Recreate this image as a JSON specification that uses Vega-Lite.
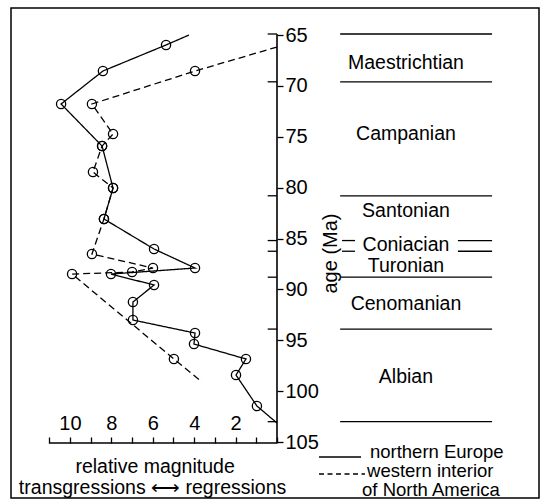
{
  "$schema": "https://vega.github.io/schema/vega-lite/v6.json",
  "width": 528,
  "height": 490,
  "autosize": "none",
  "padding": {"left": 11, "top": 8, "right": 2, "bottom": 3},
  "background": "white",
  "config": {
    "view": {"stroke": "black", "strokeWidth": 1.5},
    "font": "Liberation Sans",
    "text": {"font": "Liberation Sans", "color": "black"},
    "axis": {"labelFont": "Liberation Sans", "titleFont": "Liberation Sans", "labelColor": "black", "titleColor": "black", "tickColor": "black", "domainColor": "black", "grid": false, "tickWidth": 1.3}
  },
  "resolve": {"axis": {"x": "independent", "y": "independent"}},
  "datasets": {
    "series": [
      {"series": "northern Europe", "i": 1, "mag": 4.25, "age": 65.0, "obs": false},
      {"series": "northern Europe", "i": 2, "mag": 5.36, "age": 65.98, "obs": true},
      {"series": "northern Europe", "i": 3, "mag": 8.41, "age": 68.54, "obs": true},
      {"series": "northern Europe", "i": 4, "mag": 10.43, "age": 71.78, "obs": true},
      {"series": "northern Europe", "i": 5, "mag": 8.45, "age": 75.91, "obs": true},
      {"series": "northern Europe", "i": 6, "mag": 7.92, "age": 80.04, "obs": true},
      {"series": "northern Europe", "i": 7, "mag": 8.36, "age": 83.08, "obs": true},
      {"series": "northern Europe", "i": 8, "mag": 5.94, "age": 86.03, "obs": true},
      {"series": "northern Europe", "i": 9, "mag": 3.96, "age": 87.9, "obs": true},
      {"series": "northern Europe", "i": 10, "mag": 8.02, "age": 88.49, "obs": true},
      {"series": "northern Europe", "i": 11, "mag": 5.94, "age": 89.57, "obs": true},
      {"series": "northern Europe", "i": 12, "mag": 6.96, "age": 91.24, "obs": true},
      {"series": "northern Europe", "i": 13, "mag": 6.96, "age": 93.01, "obs": true},
      {"series": "northern Europe", "i": 14, "mag": 3.96, "age": 94.29, "obs": true},
      {"series": "northern Europe", "i": 15, "mag": 4.01, "age": 95.37, "obs": true},
      {"series": "northern Europe", "i": 16, "mag": 1.5, "age": 96.84, "obs": true},
      {"series": "northern Europe", "i": 17, "mag": 1.98, "age": 98.42, "obs": true},
      {"series": "northern Europe", "i": 18, "mag": 0.97, "age": 101.46, "obs": true},
      {"series": "northern Europe", "i": 19, "mag": 0.0, "age": 103.13, "obs": false},
      {"series": "western interior of North America", "i": 1, "mag": 0.0, "age": 66.18, "obs": false},
      {"series": "western interior of North America", "i": 2, "mag": 3.96, "age": 68.54, "obs": true},
      {"series": "western interior of North America", "i": 3, "mag": 8.94, "age": 71.78, "obs": true},
      {"series": "western interior of North America", "i": 4, "mag": 7.92, "age": 74.73, "obs": true},
      {"series": "western interior of North America", "i": 5, "mag": 8.45, "age": 75.91, "obs": true},
      {"series": "western interior of North America", "i": 6, "mag": 8.89, "age": 78.46, "obs": true},
      {"series": "western interior of North America", "i": 7, "mag": 7.92, "age": 80.04, "obs": true},
      {"series": "western interior of North America", "i": 8, "mag": 8.36, "age": 83.08, "obs": true},
      {"series": "western interior of North America", "i": 9, "mag": 8.94, "age": 86.52, "obs": true},
      {"series": "western interior of North America", "i": 10, "mag": 5.99, "age": 87.9, "obs": true},
      {"series": "western interior of North America", "i": 11, "mag": 7.0, "age": 88.29, "obs": true},
      {"series": "western interior of North America", "i": 12, "mag": 9.9, "age": 88.49, "obs": true},
      {"series": "western interior of North America", "i": 13, "mag": 4.98, "age": 96.84, "obs": true},
      {"series": "western interior of North America", "i": 14, "mag": 3.62, "age": 99.1, "obs": false}
    ],
    "boundaries": [
      {"age": 64.9, "kind": "full"},
      {"age": 69.6, "kind": "full"},
      {"age": 80.8, "kind": "full"},
      {"age": 85.2, "kind": "split"},
      {"age": 86.25, "kind": "split"},
      {"age": 88.8, "kind": "full"},
      {"age": 93.9, "kind": "full"},
      {"age": 103.0, "kind": "full"}
    ],
    "stages": [
      {"stage": "Maestrichtian", "age": 67.75},
      {"stage": "Campanian", "age": 74.7},
      {"stage": "Santonian", "age": 82.3},
      {"stage": "Coniacian", "age": 85.68},
      {"stage": "Turonian", "age": 87.72},
      {"stage": "Cenomanian", "age": 91.4},
      {"stage": "Albian", "age": 98.6}
    ]
  },
  "layer": [
    {
      "data": {"name": "series"},
      "mark": {"type": "line", "color": "black", "strokeWidth": 1.3},
      "encoding": {
        "x": {"field": "mag", "type": "quantitative",
          "scale": {"domain": [-12.657, 12.85], "reverse": true, "nice": false, "zero": false},
          "axis": {"orient": "top", "offset": -435, "values": [0,1,2,3,4,5,6,7,8,9,10,11],
            "labelExpr": "datum.value > 0 && datum.value % 2 == 0 ? datum.label : ''",
            "tickSize": 6, "labelPadding": 4, "labelFontSize": 20, "domain": false, "title": null,
            "labelFlush": false, "labelOverlap": false}},
        "y": {"field": "age", "type": "quantitative",
          "scale": {"domain": [62.346, 110.5], "reverse": true, "nice": false, "zero": false},
          "axis": {"orient": "right", "offset": -262, "values": [65,70,75,80,85,90,95,100,105],
            "tickSize": 6, "labelPadding": 2, "labelFontSize": 20, "domain": false,
            "title": "age (Ma)", "titleFontSize": 20, "titleFontWeight": "normal", "titleAngle": 270,
            "titlePadding": 22, "labelFlush": false, "labelOverlap": false}},
        "strokeDash": {"field": "series", "type": "nominal",
          "scale": {"domain": ["northern Europe", "western interior of North America"], "range": [[1, 0], [7, 4]]},
          "legend": null},
        "order": {"field": "i", "type": "quantitative"}
      }
    },
    {
      "data": {"name": "series"},
      "transform": [{"filter": "datum.obs"}],
      "mark": {"type": "point", "shape": "circle", "filled": false, "size": 85, "stroke": "black", "strokeWidth": 1.3, "opacity": 1},
      "encoding": {
        "x": {"field": "mag", "type": "quantitative", "axis": null},
        "y": {"field": "age", "type": "quantitative", "axis": null}
      }
    },
    {
      "data": {"values": [{}]},
      "mark": {"type": "rule", "color": "black", "strokeWidth": 1.6},
      "encoding": {
        "x": {"datum": 0, "type": "quantitative", "axis": null},
        "y": {"datum": 64.9, "type": "quantitative", "axis": null},
        "y2": {"datum": 105.1}
      }
    },
    {
      "data": {"values": [{}]},
      "mark": {"type": "rule", "color": "black", "strokeWidth": 1.6},
      "encoding": {
        "x": {"datum": 11, "type": "quantitative", "axis": null},
        "x2": {"datum": 0},
        "y": {"datum": 105.1, "type": "quantitative", "axis": null}
      }
    },
    {
      "data": {"name": "boundaries"},
      "mark": {"type": "rule", "color": "black", "strokeWidth": 1.3},
      "encoding": {
        "x": {"datum": 0, "type": "quantitative", "axis": null},
        "x2": {"datum": 0.45},
        "y": {"field": "age", "type": "quantitative", "axis": null}
      }
    },
    {
      "data": {"name": "boundaries"},
      "transform": [{"filter": "datum.kind == 'full'"}],
      "mark": {"type": "rule", "color": "black", "strokeWidth": 1.3},
      "encoding": {
        "x": {"datum": -3.05, "type": "quantitative", "axis": null},
        "x2": {"datum": -10.39},
        "y": {"field": "age", "type": "quantitative", "axis": null}
      }
    },
    {
      "data": {"name": "boundaries"},
      "transform": [{"filter": "datum.kind == 'split'"}],
      "mark": {"type": "rule", "color": "black", "strokeWidth": 1.3},
      "encoding": {
        "x": {"datum": -3.14, "type": "quantitative", "axis": null},
        "x2": {"datum": -3.77},
        "y": {"field": "age", "type": "quantitative", "axis": null}
      }
    },
    {
      "data": {"name": "boundaries"},
      "transform": [{"filter": "datum.kind == 'split'"}],
      "mark": {"type": "rule", "color": "black", "strokeWidth": 1.3},
      "encoding": {
        "x": {"datum": -8.74, "type": "quantitative", "axis": null},
        "x2": {"datum": -10.39},
        "y": {"field": "age", "type": "quantitative", "axis": null}
      }
    },
    {
      "data": {"name": "stages"},
      "mark": {"type": "text", "fontSize": 19.5, "align": "center", "baseline": "middle", "color": "black"},
      "encoding": {
        "x": {"datum": -6.23, "type": "quantitative", "axis": null},
        "y": {"field": "age", "type": "quantitative", "axis": null},
        "text": {"field": "stage"}
      }
    },
    {
      "data": {"values": [{}]},
      "mark": {"type": "rule", "color": "black", "strokeWidth": 1.3},
      "encoding": {
        "x": {"datum": -2.03, "type": "quantitative", "axis": null},
        "x2": {"datum": -4.06},
        "y": {"datum": 106.47, "type": "quantitative", "axis": null}
      }
    },
    {
      "data": {"values": [{}]},
      "mark": {"type": "rule", "color": "black", "strokeWidth": 1.3, "strokeDash": [5, 3.5]},
      "encoding": {
        "x": {"datum": -2.03, "type": "quantitative", "axis": null},
        "x2": {"datum": -4.25},
        "y": {"datum": 108.14, "type": "quantitative", "axis": null}
      }
    },
    {
      "data": {"values": [{}]},
      "mark": {"type": "text", "fontSize": 18.5, "align": "left", "baseline": "alphabetic", "color": "black", "text": "northern Europe"},
      "encoding": {
        "x": {"datum": -4.49, "type": "quantitative", "axis": null},
        "y": {"datum": 106.57, "type": "quantitative", "axis": null}
      }
    },
    {
      "data": {"values": [{}]},
      "mark": {"type": "text", "fontSize": 18.5, "align": "left", "baseline": "alphabetic", "color": "black", "text": "western interior"},
      "encoding": {
        "x": {"datum": -4.35, "type": "quantitative", "axis": null},
        "y": {"datum": 108.44, "type": "quantitative", "axis": null}
      }
    },
    {
      "data": {"values": [{}]},
      "mark": {"type": "text", "fontSize": 18.5, "align": "left", "baseline": "alphabetic", "color": "black", "text": "of North America"},
      "encoding": {
        "x": {"datum": -4.11, "type": "quantitative", "axis": null},
        "y": {"datum": 110.31, "type": "quantitative", "axis": null}
      }
    },
    {
      "data": {"values": [{}]},
      "mark": {"type": "text", "fontSize": 19.5, "align": "center", "baseline": "alphabetic", "color": "black", "text": "relative magnitude"},
      "encoding": {
        "x": {"datum": 5.89, "type": "quantitative", "axis": null},
        "y": {"datum": 108.04, "type": "quantitative", "axis": null}
      }
    },
    {
      "data": {"values": [{}]},
      "mark": {"type": "text", "fontSize": 19.5, "align": "center", "baseline": "alphabetic", "color": "black", "text": "transgressions ⟷ regressions"},
      "encoding": {
        "x": {"datum": 6.01, "type": "quantitative", "axis": null},
        "y": {"datum": 110.1, "type": "quantitative", "axis": null}
      }
    }
  ]
}
